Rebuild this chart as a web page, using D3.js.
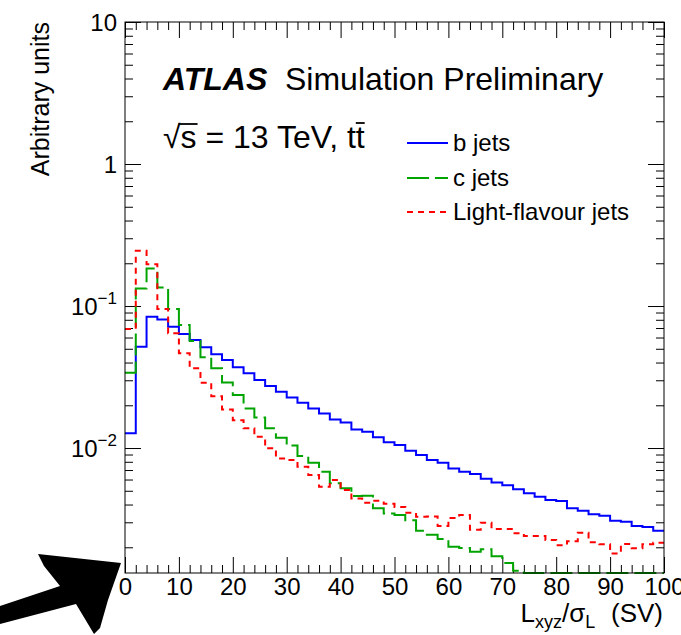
<!DOCTYPE html>
<html>
<head>
<meta charset="utf-8">
<script src="https://cdn.jsdelivr.net/npm/d3@7"></script>
<style>
  body { margin: 0; background: #fff; }
  text { font-family: "Liberation Sans", Arial, Helvetica, sans-serif; fill: #000; }
</style>
</head>
<body>
<svg id="chart" width="681" height="635"></svg>
<script>
// bin lower edges (width 2) of L_xyz/sigma histogram
const binStarts = [0, 2, 4, 6, 8, 10, 12, 14, 16, 18, 20, 22, 24, 26, 28, 30, 32, 34, 36, 38,
  40, 42, 44, 46, 48, 50, 52, 54, 56, 58, 60, 62, 64, 66, 68, 70, 72, 74, 76, 78,
  80, 82, 84, 86, 88, 90, 92, 94, 96, 98];
const binWidth = 2;

// b jets
const bJets = [0.0127, 0.0516, 0.084, 0.0805, 0.0714, 0.0635, 0.0576, 0.0512, 0.0457, 0.0417,
  0.0370, 0.0336, 0.0301, 0.0273, 0.0249, 0.0227, 0.0208, 0.0190, 0.0175, 0.0159,
  0.0151, 0.0135, 0.0130, 0.0119, 0.0110, 0.0105, 0.00958, 0.00893, 0.00823, 0.00788,
  0.00719, 0.00681, 0.00656, 0.00608, 0.00573, 0.00548, 0.00512, 0.00480, 0.00454, 0.00430,
  0.00423, 0.00376, 0.00361, 0.00342, 0.00333, 0.00307, 0.00303, 0.00282, 0.00278, 0.00262];

// c jets (last bins fall below the axis minimum)
const cJets = [0.0339, 0.133, 0.184, 0.135, 0.0953, 0.0735, 0.0567, 0.0435, 0.0364, 0.0289,
  0.0236, 0.0190, 0.0164, 0.0138, 0.0118, 0.0104, 0.00879, 0.00789, 0.00681, 0.00564,
  0.00520, 0.00459, 0.00461, 0.00376, 0.00346, 0.00338, 0.00310, 0.00262, 0.00245, 0.00229,
  0.00202, 0.00198, 0.00186, 0.00194, 0.00173, 0.00155, 0.00137, 0.001, 0.001, 0.001,
  0.001, 0.001, 0.001, 0.001, 0.001, 0.001, 0.001, 0.001, 0.001, 0.001];

// light-flavour jets
const lightJets = [0.0689, 0.245, 0.197, 0.0953, 0.0643, 0.0465, 0.0364, 0.0288, 0.0232, 0.0187,
  0.0157, 0.0138, 0.0120, 0.00995, 0.00845, 0.00823, 0.00738, 0.00645, 0.00533, 0.00595,
  0.00506, 0.00442, 0.00412, 0.00425, 0.00405, 0.00385, 0.00350, 0.00328, 0.00330, 0.00283,
  0.00322, 0.00337, 0.00266, 0.00298, 0.00269, 0.00269, 0.00251, 0.00240, 0.00240, 0.00225,
  0.00207, 0.00221, 0.00253, 0.00217, 0.00210, 0.00181, 0.00211, 0.00197, 0.00210, 0.00215];

const seriesNames = ["b jets", "c jets", "Light-flavour jets"];
const seriesColors = ["#0000ff", "#00a400", "#ff0000"];
const seriesDash = [null, "22,6", "6,5"];

const xMajorTicks = [0, 10, 20, 30, 40, 50, 60, 70, 80, 90, 100];
const yMajorTicks = [0.01, 0.1, 1, 10];
const yTickLabels = [["10", "\u22122"], ["10", "\u22121"], ["1", null], ["10", null]];

const svg = d3.select("#chart");

// plot frame
const pLeft = 125, pRight = 664, pTop = 22, pBottom = 573;
const yMin = Math.pow(10, -2.88), yMax = 10;

let x = d3.scaleLinear().domain([0, 100]).range([pLeft, pRight]);
let y = d3.scaleLog().domain([yMin, yMax]).range([pBottom, pTop]);

// minor ticks
let xMinor = d3.range(0, 101, 2).filter(function (d) { return d % 10 != 0; });
let yMinor = [];
[-3, -2, -1, 0].forEach(function (e) {
    for (let k = 2; k <= 9; k++) {
        let v = k * Math.pow(10, e);
        if (v > yMin && v < yMax) yMinor.push(v);
    }
});

function styleAxis(g) {
    g.select(".domain").remove();
    g.selectAll(".tick line").attr("stroke", "#000").attr("stroke-width", 1);
}

// bottom axis with labels
svg.append("g")
    .attr("transform", "translate(0," + pBottom + ")")
    .call(d3.axisBottom(x).tickValues(xMajorTicks).tickSize(-16).tickPadding(5).tickFormat(d3.format("d")))
    .call(styleAxis)
    .call(function (g) {
        g.selectAll("text").attr("font-size", 24).attr("font-family", "Liberation Sans, Arial, sans-serif");
    });
svg.append("g")
    .attr("transform", "translate(0," + pBottom + ")")
    .call(d3.axisBottom(x).tickValues(xMinor).tickSize(-8).tickFormat(""))
    .call(styleAxis);

// top axis
svg.append("g")
    .attr("transform", "translate(0," + pTop + ")")
    .call(d3.axisTop(x).tickValues(xMajorTicks).tickSize(-16).tickFormat(""))
    .call(styleAxis);
svg.append("g")
    .attr("transform", "translate(0," + pTop + ")")
    .call(d3.axisTop(x).tickValues(xMinor).tickSize(-8).tickFormat(""))
    .call(styleAxis);

// left axis
svg.append("g")
    .attr("transform", "translate(" + pLeft + ",0)")
    .call(d3.axisLeft(y).tickValues(yMajorTicks).tickSize(-16).tickFormat(""))
    .call(styleAxis);
svg.append("g")
    .attr("transform", "translate(" + pLeft + ",0)")
    .call(d3.axisLeft(y).tickValues(yMinor).tickSize(-8).tickFormat(""))
    .call(styleAxis);

// right axis
svg.append("g")
    .attr("transform", "translate(" + pRight + ",0)")
    .call(d3.axisRight(y).tickValues(yMajorTicks).tickSize(-16).tickFormat(""))
    .call(styleAxis);
svg.append("g")
    .attr("transform", "translate(" + pRight + ",0)")
    .call(d3.axisRight(y).tickValues(yMinor).tickSize(-8).tickFormat(""))
    .call(styleAxis);

// y tick labels with superscript exponents
yMajorTicks.forEach(function (v, i) {
    let t = svg.append("text")
        .attr("x", 117)
        .attr("y", y(v) + 9)
        .attr("text-anchor", "end")
        .attr("font-size", 24);
    t.append("tspan").text(yTickLabels[i][0]);
    if (yTickLabels[i][1]) {
        t.append("tspan").attr("font-size", 17).attr("dy", -11).text(yTickLabels[i][1]);
    }
});

// histograms
let line = d3.line()
    .x(function (d) { return x(d[0]); })
    .y(function (d) { return y(Math.max(d[1], yMin)); })
    .curve(d3.curveStepAfter);

[bJets, cJets, lightJets].forEach(function (vals, s) {
    let pts = binStarts.map(function (b, i) { return [b, vals[i]]; });
    pts.push([binStarts[binStarts.length - 1] + binWidth, vals[vals.length - 1]]);
    svg.append("path")
        .attr("d", line(pts))
        .attr("fill", "none")
        .attr("stroke", seriesColors[s])
        .attr("stroke-width", 2)
        .attr("stroke-dasharray", seriesDash[s]);
});

// frame
svg.append("rect")
    .attr("x", pLeft).attr("y", pTop)
    .attr("width", pRight - pLeft).attr("height", pBottom - pTop)
    .attr("fill", "none").attr("stroke", "#000").attr("stroke-width", 1);

// ATLAS label
svg.append("text").attr("x", 163).attr("y", 90)
    .attr("font-size", 32).attr("font-weight", "bold").attr("font-style", "italic")
    .text("ATLAS");
svg.append("text").attr("x", 285).attr("y", 90)
    .attr("font-size", 32)
    .text("Simulation Preliminary");

// sqrt(s) = 13 TeV, ttbar
let energy = svg.append("text").attr("x", 163).attr("y", 148)
    .attr("font-size", 32)
    .text("\u221As = 13 TeV, tt");
let en = energy.node();
let sx0 = 163 + en.getSubStringLength(0, 1);
let sx1 = sx0 + en.getSubStringLength(1, 1);
svg.append("line").attr("x1", sx0 - 2).attr("x2", sx1 + 1).attr("y1", 124).attr("y2", 124)
    .attr("stroke", "#000").attr("stroke-width", 1.8);
let nChars = en.getNumberOfChars();
let tx0 = 163 + en.getSubStringLength(0, nChars - 1);
let tx1 = tx0 + en.getSubStringLength(nChars - 1, 1);
svg.append("line").attr("x1", tx0).attr("x2", tx1).attr("y1", 123).attr("y2", 123)
    .attr("stroke", "#000").attr("stroke-width", 1.8);

// legend
let legendY = [143, 178, 212];
seriesNames.forEach(function (name, i) {
    svg.append("line")
        .attr("x1", 407).attr("x2", 448)
        .attr("y1", legendY[i]).attr("y2", legendY[i])
        .attr("stroke", seriesColors[i]).attr("stroke-width", 2)
        .attr("stroke-dasharray", seriesDash[i]);
    svg.append("text")
        .attr("x", 453).attr("y", legendY[i] + 8)
        .attr("font-size", 24)
        .text(name);
});

// axis titles
svg.append("text")
    .attr("transform", "translate(49,22) rotate(-90)")
    .attr("text-anchor", "end")
    .attr("font-size", 25)
    .text("Arbitrary units");

let xt = svg.append("text")
    .attr("x", 663).attr("y", 622)
    .attr("text-anchor", "end")
    .attr("font-size", 26);
xt.append("tspan").text("L");
xt.append("tspan").attr("font-size", 18).attr("dy", 6).text("xyz");
xt.append("tspan").attr("dy", -6).text("/\u03C3");
xt.append("tspan").attr("font-size", 18).attr("dy", 6).text("L");
xt.append("tspan").attr("dy", -6).text("\u2009\u2009\u2009(SV)");

// scribbled arrow in the lower-left corner
svg.append("path")
    .attr("d", "M121,563 L38,554 L44,566 L60,586 L0,606 L0,624 L76,604 L94,634 L100,628 L108,600 Z")
    .attr("fill", "#000");
</script>
</body>
</html>
